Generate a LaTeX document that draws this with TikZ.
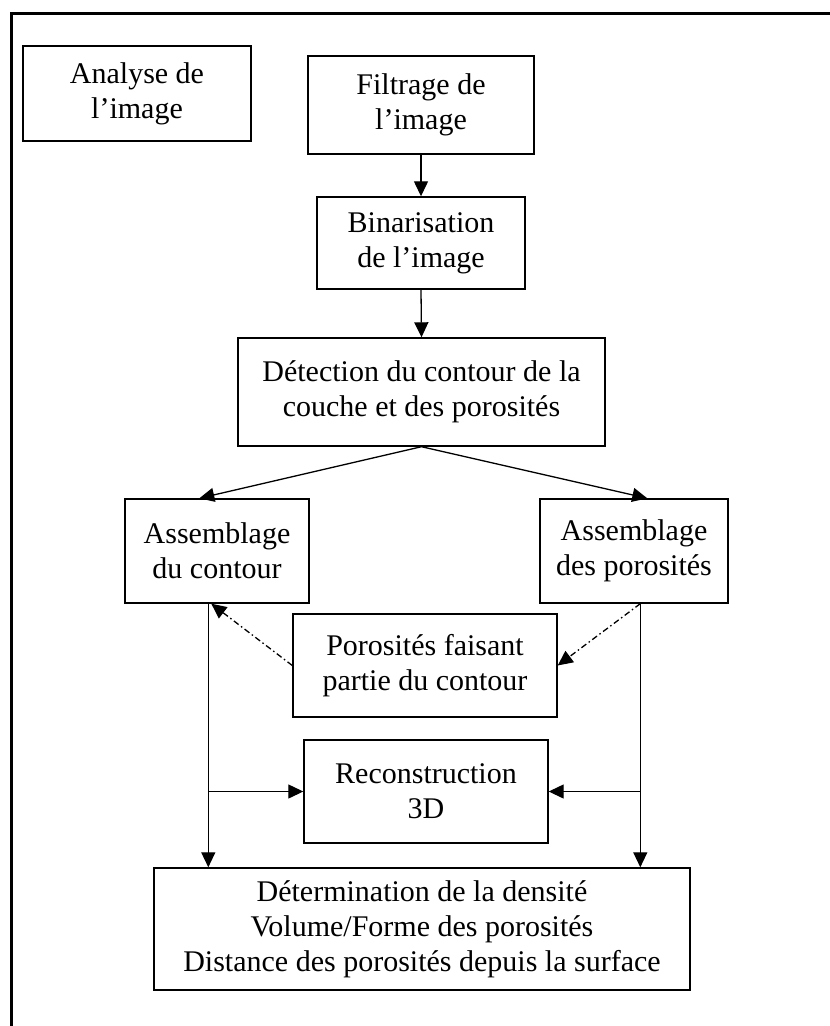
\documentclass[tikz,border=0pt]{standalone}
\usepackage{fontspec}
\setmainfont{Liberation Serif}
\usetikzlibrary{arrows.meta}
\begin{document}
\begin{tikzpicture}[x=1pt,y=-1pt,
  box/.style={draw, line width=1.4pt, inner sep=0pt, align=center, font=\fontsize{30}{35}\selectfont},
  arr/.style={line width=1.3pt, -{Triangle[length=15pt,width=14pt]}},
  dd/.style={arr, dash pattern=on 6pt off 3pt on 1.5pt off 3pt}]
\useasboundingbox (0,0) rectangle (830,1026);
\draw[line width=2.8pt] (11.4,1030) -- (11.4,13.4) -- (834,13.4);
\node[box, minimum width=228pt, minimum height=95pt] (ana) at (137,93.5) {Analyse de\\l’image};
\node[box, minimum width=226pt, minimum height=98pt] (fil) at (421,105) {Filtrage de\\l’image};
\node[box, minimum width=208pt, minimum height=92pt] (bin) at (421,243) {Binarisation\\de l’image};
\node[box, minimum width=367pt, minimum height=108pt] (det) at (421.5,392) {Détection du contour de la\\couche et des porosités};
\node[box, minimum width=184pt, minimum height=104pt] (ac) at (217,551) {Assemblage\\du contour};
\node[box, minimum width=188pt, minimum height=104pt] (ap) at (634,551) {Assemblage\\des porosités};
\node[box, minimum width=264pt, minimum height=103pt] (pf) at (425,665.5) {Porosités faisant\\partie du contour};
\node[box, minimum width=244pt, minimum height=103pt] (rc) at (426,791.5) {Reconstruction\\3D};
\node[box, minimum width=536pt, minimum height=122pt] (dm) at (422,929) {Détermination de la densité\\Volume/Forme des porosités\\Distance des porosités depuis la surface};
\coordinate (Lb) at ([xshift=84pt]ac.south west);
\coordinate (Rb) at ([xshift=101pt]ap.south west);
\draw[arr] (fil.south) -- (bin.north);
\draw[arr] (bin.south) -- (det.north);
\draw[arr] (det.south) -- ([xshift=75pt]ac.north west);
\draw[arr] (det.south) -- ([xshift=108pt]ap.north west);
\draw[arr] (Lb) -- (Lb |- dm.north);
\draw[arr] (Rb) -- (Rb |- dm.north);
\draw[arr] (Lb |- rc.west) -- (rc.west);
\draw[arr] (Rb |- rc.east) -- (rc.east);
\draw[dd] (pf.west) -- ([xshift=87pt]ac.south west);
\draw[dd] (Rb) -- (pf.east);
\end{tikzpicture}
\end{document}
